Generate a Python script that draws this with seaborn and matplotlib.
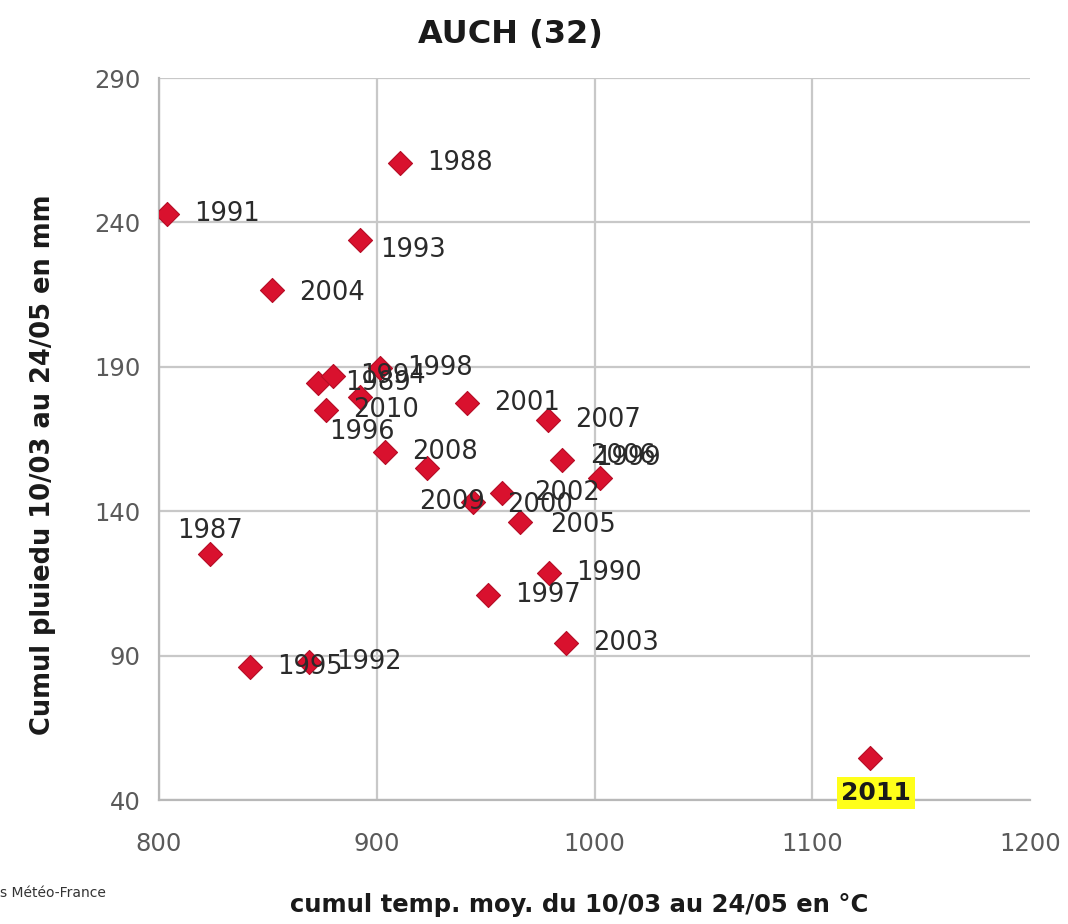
import pandas as pd
import matplotlib
matplotlib.use('Agg')
import matplotlib.pyplot as plt
import seaborn as sns

# ------------------------------------------------------------
# data (one point per year)
# ------------------------------------------------------------
annees = [1987, 1988, 1989, 1990, 1991, 1992, 1993, 1994, 1995, 1996,
          1997, 1998, 1999, 2000, 2001, 2002, 2003, 2004, 2005, 2006,
          2007, 2008, 2009, 2010, 2011]
cumul_temp = [823.4, 910.7, 873.0, 979.2, 803.7, 868.9, 892.3, 880.0, 841.8, 892.3,
              951.1, 901.5, 1002.6, 944.4, 941.5, 957.6, 987.0, 851.9, 965.9, 985.2,
              978.8, 903.7, 923.0, 876.6, 1126.6]
cumul_pluie = [125.2, 260.6, 184.4, 118.7, 242.9, 87.9, 233.9, 186.9, 86.1, 179.6,
               111.0, 189.6, 151.5, 143.2, 177.5, 146.4, 94.4, 216.6, 136.3, 157.8,
               171.6, 160.5, 155.0, 175.1, 54.6]

x_ticks = [800, 900, 1000, 1100, 1200]
y_ticks = [40, 90, 140, 190, 240, 290]

df = pd.DataFrame({'annee': annees, 'temp': cumul_temp, 'pluie': cumul_pluie})

# label placement (pixel offsets, Excel-like manual tweaks)
default_off = (27, 0, 'left')
label_off = {
    1987: (0, -23, 'center'),
    1993: (20, 10, 'left'),
    1996: (2, 35, 'center'),
    2000: (34, 3, 'left'),
    2002: (32, 0, 'left'),
    2005: (30, 3, 'left'),
    2006: (28, -4, 'left'),
    1999: (-5, -20, 'left'),
    2009: (-8, 34, 'left'),
    2004: (27, 3, 'left'),
    2011: (6, 35, 'center'),
}

# ------------------------------------------------------------
# plot
# ------------------------------------------------------------
sns.set_style('white')
plt.rcParams['font.family'] = ['DejaVu Sans']

fig = plt.figure(figsize=(10.68, 9.24), dpi=100)
ax = fig.add_axes([159 / 1068, 1 - 800 / 924, (1030 - 159) / 1068, (800 - 78) / 924])

sns.scatterplot(data=df, x='temp', y='pluie', marker='D', s=150,
                color='#d9112e', edgecolor='#b50c25', linewidth=0.8,
                ax=ax, zorder=3, legend=False)

px = 72 / 100  # pixels -> points
for _, r in df.iterrows():
    dx, dy, ha = label_off.get(int(r['annee']), default_off)
    kw = dict(fontsize=18.5, color='#2a2a2a')
    if r['annee'] == 2011:
        kw.update(fontweight='bold', color='#1a1a1a', fontsize=18,
                  bbox=dict(boxstyle='square,pad=0.15', fc='#ffff1a', ec='none'))
    ax.annotate(str(int(r['annee'])), (r['temp'], r['pluie']),
                xytext=(dx * px, -dy * px), textcoords='offset points',
                ha=ha, va='center', zorder=4, **kw)

ax.set_xlim(800, 1200)
ax.set_ylim(40, 290)
ax.set_xticks(x_ticks)
ax.set_yticks(y_ticks)
ax.grid(True, color='#c8c8c8', linewidth=1.6, zorder=0)
ax.xaxis.get_gridlines()[-1].set_visible(False)
ax.set_axisbelow(True)

for side in ['top', 'right']:
    ax.spines[side].set_visible(False)
for side in ['left', 'bottom']:
    ax.spines[side].set_color('#b8b8b8')
    ax.spines[side].set_linewidth(1.6)

ax.tick_params(axis='both', labelsize=17.5, labelcolor='#5a5a5a',
               color='#b8b8b8', length=5, width=1.4, direction='out')
ax.tick_params(axis='x', pad=18)
ax.tick_params(axis='y', pad=8)

ax.set_xlabel('')
ax.set_ylabel('Cumul pluiedu 10/03 au 24/05 en mm', fontsize=18.5,
              fontweight='bold', color='#1a1a1a')
ax.yaxis.set_label_coords(-(159 - 56) / 871, 0.464)

fig.text(510 / 1068, 1 - 35 / 924, 'AUCH (32)', fontsize=23, fontweight='bold',
         ha='center', va='center', color='#1a1a1a')
fig.text(579 / 1068, 1 - 905 / 924, 'cumul temp. moy. du 10/03 au 24/05 en °C',
         fontsize=17.5, fontweight='bold', ha='center', va='center', color='#1a1a1a')
fig.text(0, 1 - 893 / 924, 's Météo-France', fontsize=10, ha='left',
         va='center', color='#333333')

plt.savefig('out.png', dpi=100)
